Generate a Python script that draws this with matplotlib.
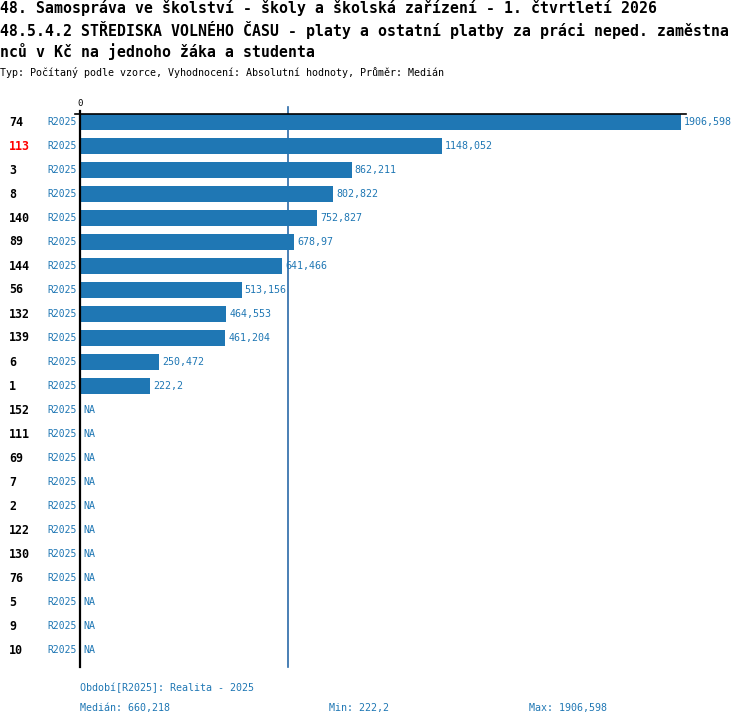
import matplotlib.pyplot as plt

# data
ids = ["74", "113", "3", "8", "140", "89", "144", "56", "132", "139", "6", "1",
       "152", "111", "69", "7", "2", "122", "130", "76", "5", "9", "10"]
values = [1906.598, 1148.052, 862.211, 802.822, 752.827, 678.97, 641.466, 513.156,
          464.553, 461.204, 250.472, 222.2,
          None, None, None, None, None, None, None, None, None, None, None]
period = "R2025"
highlight = "113"
median_val = 660.218
min_val = 222.2
max_val = 1906.598

W, H = 750, 726
BLUE = "#1f77b4"
MONO = "DejaVu Sans Mono"


def fx(x):
    return x / W


def fy(y):
    return 1 - y / H


def fmt(v):
    s = f"{v:.3f}".rstrip("0").rstrip(".")
    return s.replace(".", ",")


fig = plt.figure(figsize=(W / 100, H / 100), dpi=100)

# header
titles = ["48. Samospráva ve školství - školy a školská zařízení - 1. čtvrtletí 2026",
          "48.5.4.2 STŘEDISKA VOLNÉHO ČASU - platy a ostatní platby za práci neped. zaměstna",
          "nců v Kč na jednoho žáka a studenta"]
for i, t in enumerate(titles):
    fig.text(fx(0), fy(8 + 22 * i), t, family=MONO, weight="bold", fontsize=10.7,
             va="center", ha="left")
fig.text(fx(0), fy(72), "Typ: Počítaný podle vzorce, Vyhodnocení: Absolutní hodnoty, Průměr: Medián",
         family=MONO, fontsize=7.2, va="center", ha="left")

# axes: x from 80 to 686 px, y from 113 to 667 px
ax_left, ax_right, ax_top, ax_bot = 80, 686, 113, 667
ax = fig.add_axes([fx(ax_left), fy(ax_bot), (ax_right - ax_left) / W, (ax_bot - ax_top) / H])
scale = (681 - 80) / max_val  # px per unit
ax.set_xlim(0, (ax_right - ax_left) / scale)
row0, pitch = 122, 24
ax.set_ylim((ax_bot - row0) / pitch, (ax_top - row0) / pitch)
ax.axis("off")

n = len(ids)
for i in range(n):
    v = values[i]
    if v is not None:
        ax.barh(i, v, height=16 / 24, color=BLUE, zorder=2)
        ax.text(v + 3 / scale, i, fmt(v), family=MONO, fontsize=7.2, color=BLUE,
                va="center", ha="left")
    else:
        ax.text(3 / scale, i, "NA", family=MONO, fontsize=7.2, color=BLUE,
                va="center", ha="left")

# median line
ax.axvline(median_val, color="#2a6aa8", lw=1.2, zorder=1, ymin=0, ymax=1.01, clip_on=False)

# axis lines
fig.add_artist(plt.Line2D([fx(80), fx(80)], [fy(111), fy(667)], color="black", lw=1.6))
fig.add_artist(plt.Line2D([fx(75), fx(686)], [fy(113.5), fy(113.5)], color="black", lw=1.2))
fig.text(fx(80), fy(103), "0", family=MONO, fontsize=6.5, ha="center", va="center")

# row labels
for i, lab in enumerate(ids):
    y = row0 + pitch * i
    fig.text(fx(9), fy(y), lab, family=MONO, weight="bold", fontsize=8.4,
             color="red" if lab == highlight else "black", va="center", ha="left")
    fig.text(fx(77), fy(y), period, family=MONO, fontsize=7.0, color=BLUE,
             va="center", ha="right")

# footer
fig.text(fx(80), fy(688), "Období[R2025]: Realita - 2025", family=MONO, fontsize=7.2,
         color=BLUE, va="center", ha="left")
fig.text(fx(80), fy(708), f"Medián: {fmt(median_val)}", family=MONO, fontsize=7.2,
         color=BLUE, va="center", ha="left")
fig.text(fx(329), fy(708), f"Min: {fmt(min_val)}", family=MONO, fontsize=7.2,
         color=BLUE, va="center", ha="left")
fig.text(fx(529), fy(708), f"Max: {fmt(max_val)}", family=MONO, fontsize=7.2,
         color=BLUE, va="center", ha="left")

fig.savefig("out.png", dpi=100)
